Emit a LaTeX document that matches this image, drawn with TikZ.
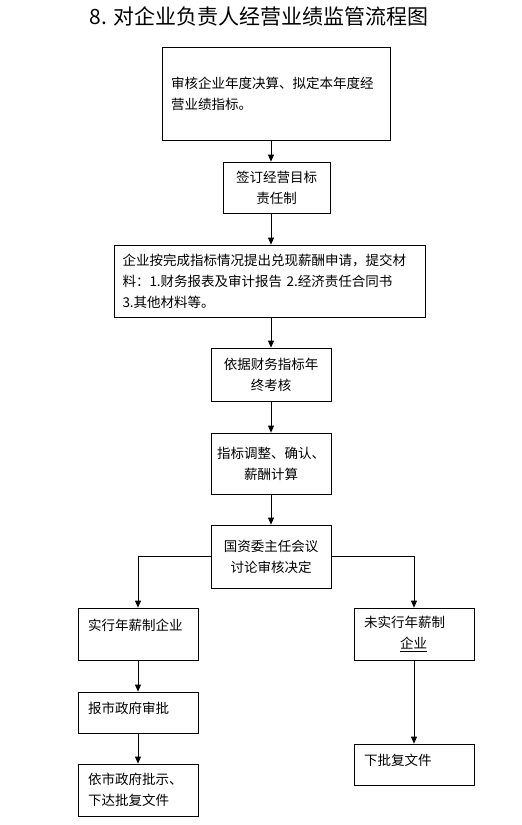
\documentclass[tikz,border=0pt]{standalone}
\usepackage{fontspec}
\setmainfont{Noto Sans CJK SC}
\usetikzlibrary{positioning,arrows.meta}

\begin{document}
\begin{tikzpicture}[
  x=1pt, y=-1pt,
  box/.style={draw, line width=0.8pt, inner sep=2pt, align=center,
    font=\fontsize{13.5}{21}\selectfont},
  lbox/.style={box, align=left, text width=100pt},
  arr/.style={line width=0.8pt, -{Triangle[length=7pt,width=6pt]}}
]
% page frame: 1 unit = 1 pixel of the source
\useasboundingbox (0,0) rectangle (522,825);
\def\bw{120pt}  % width of the small boxes

% Title
\node[font=\fontsize{21}{25}\selectfont] (title) at (259,16) {8. 对企业负责人经营业绩监管流程图};

% Main column
\node[box, align=left, text width=210pt, minimum width=228pt, minimum height=93pt] (audit) at (276,93.5)
  {审核企业年度决算、拟定本年度经\\营业绩指标。};
\node[box, minimum width=107pt, minimum height=51pt] (sign) at (276.5,187.5)
  {签订经营目标\\责任制};
\node[box, align=left, text width=294pt, minimum width=311pt, minimum height=72pt] (apply) at (269.5,281)
  {企业按完成指标情况提出兑现薪酬申请，提交材\\料：1.财务报表及审计报告 2.经济责任合同书\\3.其他材料等。};
\node[box, minimum width=\bw, minimum height=53pt] (assess) at (271,374.5)
  {依据财务指标年\\终考核};
\node[box, minimum width=\bw, minimum height=61pt] (adjust) at (271,463.5)
  {指标调整、确认、\\薪酬计算};
\node[box, minimum width=\bw, minimum height=63pt] (decide) at (271,556.5)
  {国资委主任会议\\讨论审核决定};

% Left branch: annual salary system
\node[lbox, text depth=19pt, minimum width=\bw, minimum height=52pt] (salary) at (138,634)
  {实行年薪制企业};
\node[lbox, text depth=10pt, minimum width=\bw, minimum height=41pt] (report) at (138,712.5)
  {报市政府审批};
\node[lbox, minimum width=\bw, minimum height=52pt] (issue) at (138,790)
  {依市政府批示、\\下达批复文件};

% Right branch: no annual salary system
\node[lbox, minimum width=\bw, minimum height=52pt] (nosalary) at (414,634)
  {未实行年薪制\\\hspace*{36pt}\underline{企业}};
\node[lbox, text depth=10pt, minimum width=\bw, minimum height=41pt] (reply) at (414,764.5)
  {下批复文件};

% Connectors
\draw[arr] (audit.south -| assess) -- (sign.north -| assess);
\draw[arr] (sign.south -| assess) -- (apply.north -| assess);
\draw[arr] (apply.south -| assess) -- (assess.north);
\draw[arr] (assess) -- (adjust);
\draw[arr] (adjust) -- (decide);
\draw[arr] (decide.west) -| (salary.north);
\draw[arr] (decide.east) -| (nosalary.north);
\draw[arr] (salary) -- (report);
\draw[arr] (report) -- (issue);
\draw[arr] (nosalary) -- (reply);
\end{tikzpicture}
\end{document}
